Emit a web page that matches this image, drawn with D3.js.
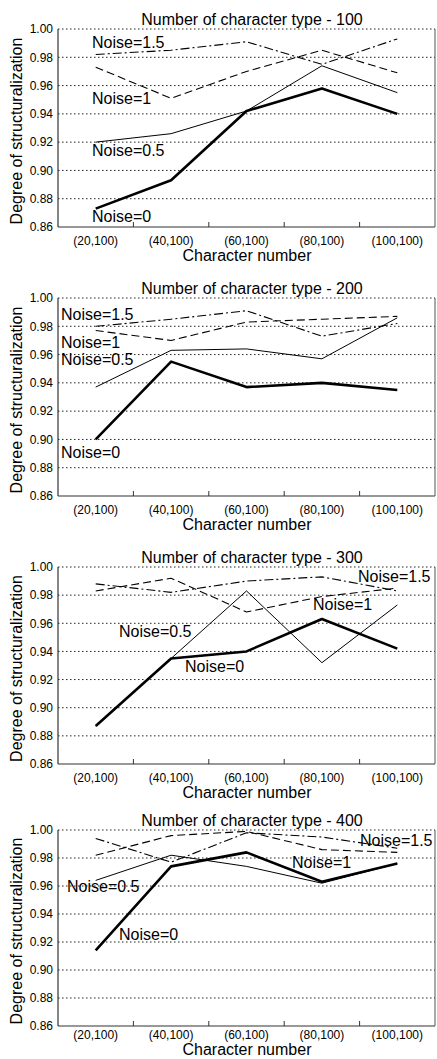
<!DOCTYPE html>
<html>
<head>
<meta charset="utf-8">
<script src="https://cdn.jsdelivr.net/npm/d3@7"></script>
<style>
  body { margin: 0; background: #fff; }
  svg { display: block; }
  text { font-family: "Liberation Sans", Arial, sans-serif; fill: #000; }
</style>
</head>
<body>
<svg id="chart" width="437" height="1059"></svg>
<script>
// ---- data ----
const categories = ["(20,100)", "(40,100)", "(60,100)", "(80,100)", "(100,100)"];
const panelTitles = [
  "Number of character type - 100",
  "Number of character type - 200",
  "Number of character type - 300",
  "Number of character type - 400"
];
const yTickValues = [0.86, 0.88, 0.90, 0.92, 0.94, 0.96, 0.98, 1.00];
const seriesNames = ["Noise=0", "Noise=0.5", "Noise=1", "Noise=1.5"];

// one row per panel (type 100, 200, 300, 400)
const noise0 = [
  [0.873, 0.893, 0.942, 0.958, 0.940],
  [0.900, 0.955, 0.937, 0.940, 0.935],
  [0.887, 0.935, 0.940, 0.963, 0.942],
  [0.914, 0.974, 0.984, 0.963, 0.976]
];
const noise05 = [
  [0.920, 0.926, 0.942, 0.974, 0.955],
  [0.937, 0.963, 0.964, 0.957, 0.986],
  [0.887, 0.935, 0.983, 0.932, 0.973],
  [0.964, 0.982, 0.974, 0.962, 0.976]
];
const noise1 = [
  [0.973, 0.951, 0.970, 0.985, 0.969],
  [0.977, 0.970, 0.983, 0.985, 0.987],
  [0.983, 0.992, 0.968, 0.979, 0.985],
  [0.982, 0.996, 0.999, 0.986, 0.984]
];
const noise15 = [
  [0.982, 0.985, 0.991, 0.975, 0.993],
  [0.980, 0.985, 0.991, 0.973, 0.982],
  [0.988, 0.982, 0.990, 0.993, 0.983],
  [0.994, 0.977, 0.998, 0.995, 0.987]
];

// ---- layout ----
const plotLeft = 58, plotRight = 435;
const panelTops = [29, 298, 567, 830];
const panelHeights = [198, 198, 197, 196];
// baseline offsets below each plot: [tick labels, axis title]
const bottomOffsets = [[18, 34], [18, 34], [18, 34], [13, 29]];
// in-plot label anchors [dx, baseline dy] from each plot's top-left corner
const labelAnchors = [
  [[34, 193], [34, 127], [34, 75], [34, 19]],
  [[3, 160], [3, 67], [3, 50], [3, 22]],
  [[127, 105], [61, 70], [255, 43], [300, 15]],
  [[61, 110], [9, 62], [234, 38], [302, 16]]
];
const seriesStyles = [
  { width: 2.6, dash: null },
  { width: 1, dash: null },
  { width: 1.1, dash: "8,4" },
  { width: 1.1, dash: "9,3,2,3" }
];

const svg = d3.select("#chart");
const x = d3.scaleBand().domain(categories).range([plotLeft, plotRight]);

panelTitles.forEach((title, p) => {
  const top = panelTops[p];
  const plotH = panelHeights[p];
  const g = svg.append("g");
  const y = d3.scaleLinear().domain([0.86, 1.00]).range([top + plotH, top]);

  // dotted grid (including the top edge)
  g.selectAll("line.grid").data(yTickValues.slice(1)).join("line")
    .attr("x1", plotLeft).attr("x2", plotRight)
    .attr("y1", d => y(d)).attr("y2", d => y(d))
    .attr("stroke", "#222").attr("stroke-width", 1)
    .attr("stroke-dasharray", "1.5,2.5");

  // frame: left, bottom, right
  g.append("line").attr("x1", plotLeft).attr("x2", plotLeft)
    .attr("y1", y(1.00)).attr("y2", y(0.86)).attr("stroke", "#333").attr("stroke-width", 1.2);
  g.append("line").attr("x1", plotLeft).attr("x2", plotRight)
    .attr("y1", y(0.86)).attr("y2", y(0.86)).attr("stroke", "#333").attr("stroke-width", 1.2);
  g.append("line").attr("x1", plotRight).attr("x2", plotRight)
    .attr("y1", y(1.00)).attr("y2", y(0.86)).attr("stroke", "#555").attr("stroke-width", 1);

  // inner ticks at category boundaries
  g.selectAll("line.xtick").data(categories.slice(1)).join("line")
    .attr("x1", d => x(d)).attr("x2", d => x(d))
    .attr("y1", y(0.86)).attr("y2", y(0.86) - 5)
    .attr("stroke", "#333").attr("stroke-width", 1);

  // y tick labels
  const yAxis = d3.axisLeft(y).tickValues(yTickValues).tickFormat(d3.format(".2f")).tickSize(0).tickPadding(5);
  const ya = g.append("g").attr("transform", `translate(${plotLeft},0)`).call(yAxis);
  ya.select(".domain").remove();
  ya.selectAll("text").attr("font-size", 12).attr("font-family", "Liberation Sans, Arial, sans-serif").attr("fill", "#000");

  // x tick labels
  const [tickOff, titleOff] = bottomOffsets[p];
  const xAxis = d3.axisBottom(x).tickSize(0).tickPadding(0);
  const xa = g.append("g").attr("transform", `translate(0,${top + plotH})`).call(xAxis);
  xa.select(".domain").remove();
  xa.selectAll("text").attr("font-size", 12).attr("font-family", "Liberation Sans, Arial, sans-serif")
    .attr("fill", "#000").attr("dy", null).attr("y", tickOff);

  // series lines
  const rows = [noise0[p], noise05[p], noise1[p], noise15[p]];
  const line = d3.line().x((d, i) => x(categories[i]) + x.bandwidth() / 2).y(d => y(d));
  rows.forEach((vals, s) => {
    const st = seriesStyles[s];
    g.append("path").datum(vals)
      .attr("d", line)
      .attr("fill", "none").attr("stroke", "#000")
      .attr("stroke-width", st.width)
      .attr("stroke-dasharray", st.dash)
      .attr("stroke-linejoin", "round");
  });

  // series labels
  seriesNames.forEach((name, s) => {
    const [dx, dy] = labelAnchors[p][s];
    g.append("text").attr("x", plotLeft + dx).attr("y", top + dy)
      .attr("font-size", 16).text(name);
  });

  // titles
  g.append("text").attr("x", 252).attr("y", top - 4)
    .attr("text-anchor", "middle").attr("font-size", 16).text(title);
  g.append("text").attr("x", 247).attr("y", top + plotH + titleOff)
    .attr("text-anchor", "middle").attr("font-size", 16).text("Character number");
  g.append("text")
    .attr("transform", `translate(22,${top + plotH / 2 + 3}) rotate(-90)`)
    .attr("text-anchor", "middle").attr("font-size", 16).text("Degree of structuralization");
});
</script>
</body>
</html>
